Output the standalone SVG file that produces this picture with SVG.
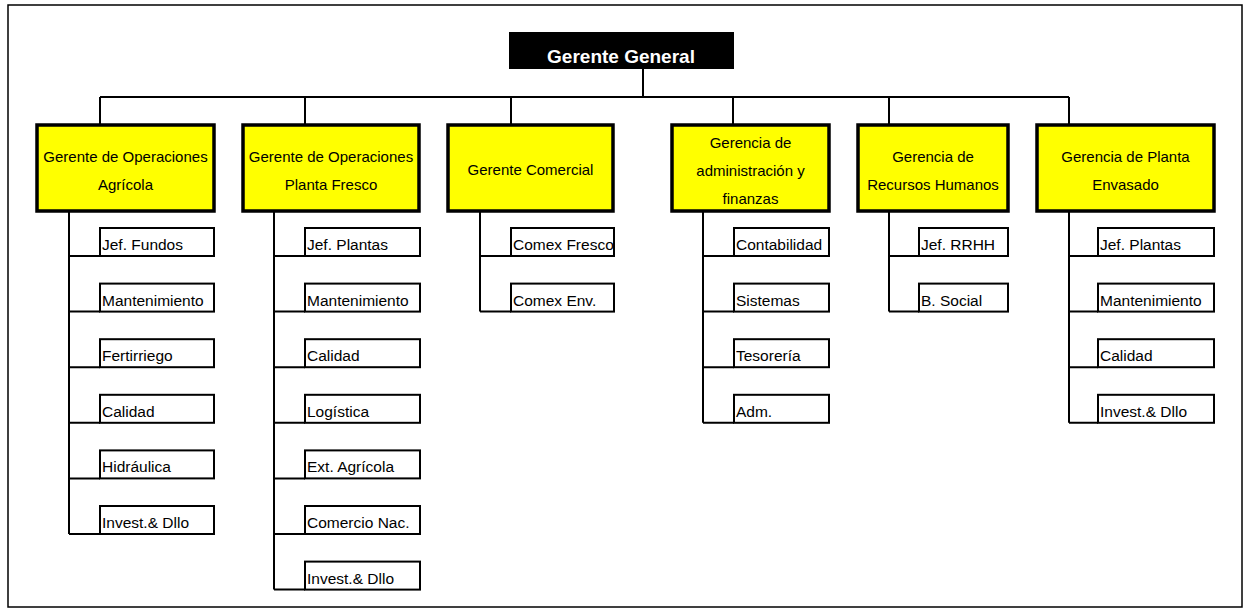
<svg xmlns="http://www.w3.org/2000/svg" width="1247" height="613" viewBox="0 0 1247 613">
<style>
.frame{fill:#fff;stroke:#000;stroke-width:1.5}
.top{fill:#000}
.toptxt{font-family:"Liberation Sans",Arial,sans-serif;font-weight:bold;font-size:19px;fill:#fff;text-anchor:middle}
.mgr{fill:#ffff00;stroke:#000;stroke-width:3.5}
.mgrtxt{font-family:"Liberation Sans",Arial,sans-serif;font-size:15px;fill:#000;text-anchor:middle}
.sub{fill:#fff;stroke:#000;stroke-width:2}
.subtxt{font-family:"Liberation Sans",Arial,sans-serif;font-size:15.5px;fill:#000}
.ln{fill:none;stroke:#000;stroke-width:2}
</style>
<rect class="frame" x="8" y="5" width="1234" height="602"/>
<g id="connectors">
<path class="ln" d="M643 69V97M100 97H1069M100 97V125M305 97V125M511 97V125M733 97V125M889 97V125M1069 97V125"/>
<path class="ln" d="M69 211V534M69 256H100M69 311.6H100M69 367.2H100M69 422.8H100M69 478.4H100M69 534H100"/>
<path class="ln" d="M274 211V589.6M274 256H305M274 311.6H305M274 367.2H305M274 422.8H305M274 478.4H305M274 534H305M274 589.6H305"/>
<path class="ln" d="M480 211V311.6M480 256H511M480 311.6H511"/>
<path class="ln" d="M703 211V422.8M703 256H734M703 311.6H734M703 367.2H734M703 422.8H734"/>
<path class="ln" d="M889 211V311.6M889 256H919M889 311.6H919"/>
<path class="ln" d="M1069 211V422.8M1069 256H1098M1069 311.6H1098M1069 367.2H1098M1069 422.8H1098"/>
</g>
<g id="gerente-general">
<rect class="top" x="509" y="32" width="225" height="37"/>
<text class="toptxt" x="621" y="63">Gerente General</text>
</g>
<g id="mgr-agricola">
<rect class="mgr" x="37" y="125" width="177" height="86"/>
<text class="mgrtxt" x="125.5" y="162">Gerente de Operaciones</text>
<text class="mgrtxt" x="125.5" y="190">Agrícola</text>
</g>
<g id="mgr-fresco">
<rect class="mgr" x="243" y="125" width="176" height="86"/>
<text class="mgrtxt" x="331" y="162">Gerente de Operaciones</text>
<text class="mgrtxt" x="331" y="190">Planta Fresco</text>
</g>
<g id="mgr-comercial">
<rect class="mgr" x="448" y="125" width="165" height="86"/>
<text class="mgrtxt" x="530.5" y="175">Gerente Comercial</text>
</g>
<g id="mgr-admin">
<rect class="mgr" x="672" y="125" width="157" height="86"/>
<text class="mgrtxt" x="750.5" y="148">Gerencia de</text>
<text class="mgrtxt" x="750.5" y="176">administración y</text>
<text class="mgrtxt" x="750.5" y="204">finanzas</text>
</g>
<g id="mgr-rrhh">
<rect class="mgr" x="858" y="125" width="150" height="86"/>
<text class="mgrtxt" x="933" y="162">Gerencia de</text>
<text class="mgrtxt" x="933" y="190">Recursos Humanos</text>
</g>
<g id="mgr-envasado">
<rect class="mgr" x="1037" y="125" width="177" height="86"/>
<text class="mgrtxt" x="1125.5" y="162">Gerencia de Planta</text>
<text class="mgrtxt" x="1125.5" y="190">Envasado</text>
</g>
<g id="c1-jef-fundos"><rect class="sub" x="100" y="228" width="114" height="28"/><text class="subtxt" x="102" y="250">Jef. Fundos</text></g>
<g id="c1-mantenimiento"><rect class="sub" x="100" y="283.6" width="114" height="28"/><text class="subtxt" x="102" y="305.6">Mantenimiento</text></g>
<g id="c1-fertirriego"><rect class="sub" x="100" y="339.2" width="114" height="28"/><text class="subtxt" x="102" y="361.2">Fertirriego</text></g>
<g id="c1-calidad"><rect class="sub" x="100" y="394.8" width="114" height="28"/><text class="subtxt" x="102" y="416.8">Calidad</text></g>
<g id="c1-hidraulica"><rect class="sub" x="100" y="450.4" width="114" height="28"/><text class="subtxt" x="102" y="472.4">Hidráulica</text></g>
<g id="c1-invest"><rect class="sub" x="100" y="506" width="114" height="28"/><text class="subtxt" x="102" y="528">Invest.&amp; Dllo</text></g>
<g id="c2-jef-plantas"><rect class="sub" x="305" y="228" width="115" height="28"/><text class="subtxt" x="307" y="250">Jef. Plantas</text></g>
<g id="c2-mantenimiento"><rect class="sub" x="305" y="283.6" width="115" height="28"/><text class="subtxt" x="307" y="305.6">Mantenimiento</text></g>
<g id="c2-calidad"><rect class="sub" x="305" y="339.2" width="115" height="28"/><text class="subtxt" x="307" y="361.2">Calidad</text></g>
<g id="c2-logistica"><rect class="sub" x="305" y="394.8" width="115" height="28"/><text class="subtxt" x="307" y="416.8">Logística</text></g>
<g id="c2-ext-agricola"><rect class="sub" x="305" y="450.4" width="115" height="28"/><text class="subtxt" x="307" y="472.4">Ext. Agrícola</text></g>
<g id="c2-comercio-nac"><rect class="sub" x="305" y="506" width="115" height="28"/><text class="subtxt" x="307" y="528">Comercio Nac.</text></g>
<g id="c2-invest"><rect class="sub" x="305" y="561.6" width="115" height="28"/><text class="subtxt" x="307" y="583.6">Invest.&amp; Dllo</text></g>
<g id="c3-comex-fresco"><rect class="sub" x="511" y="228" width="103" height="28"/><text class="subtxt" x="513" y="250">Comex Fresco</text></g>
<g id="c3-comex-env"><rect class="sub" x="511" y="283.6" width="103" height="28"/><text class="subtxt" x="513" y="305.6">Comex Env.</text></g>
<g id="c4-contabilidad"><rect class="sub" x="734" y="228" width="95" height="28"/><text class="subtxt" x="736" y="250">Contabilidad</text></g>
<g id="c4-sistemas"><rect class="sub" x="734" y="283.6" width="95" height="28"/><text class="subtxt" x="736" y="305.6">Sistemas</text></g>
<g id="c4-tesoreria"><rect class="sub" x="734" y="339.2" width="95" height="28"/><text class="subtxt" x="736" y="361.2">Tesorería</text></g>
<g id="c4-adm"><rect class="sub" x="734" y="394.8" width="95" height="28"/><text class="subtxt" x="736" y="416.8">Adm.</text></g>
<g id="c5-jef-rrhh"><rect class="sub" x="919" y="228" width="89" height="28"/><text class="subtxt" x="921" y="250">Jef. RRHH</text></g>
<g id="c5-b-social"><rect class="sub" x="919" y="283.6" width="89" height="28"/><text class="subtxt" x="921" y="305.6">B. Social</text></g>
<g id="c6-jef-plantas"><rect class="sub" x="1098" y="228" width="116" height="28"/><text class="subtxt" x="1100" y="250">Jef. Plantas</text></g>
<g id="c6-mantenimiento"><rect class="sub" x="1098" y="283.6" width="116" height="28"/><text class="subtxt" x="1100" y="305.6">Mantenimiento</text></g>
<g id="c6-calidad"><rect class="sub" x="1098" y="339.2" width="116" height="28"/><text class="subtxt" x="1100" y="361.2">Calidad</text></g>
<g id="c6-invest"><rect class="sub" x="1098" y="394.8" width="116" height="28"/><text class="subtxt" x="1100" y="416.8">Invest.&amp; Dllo</text></g>
</svg>
